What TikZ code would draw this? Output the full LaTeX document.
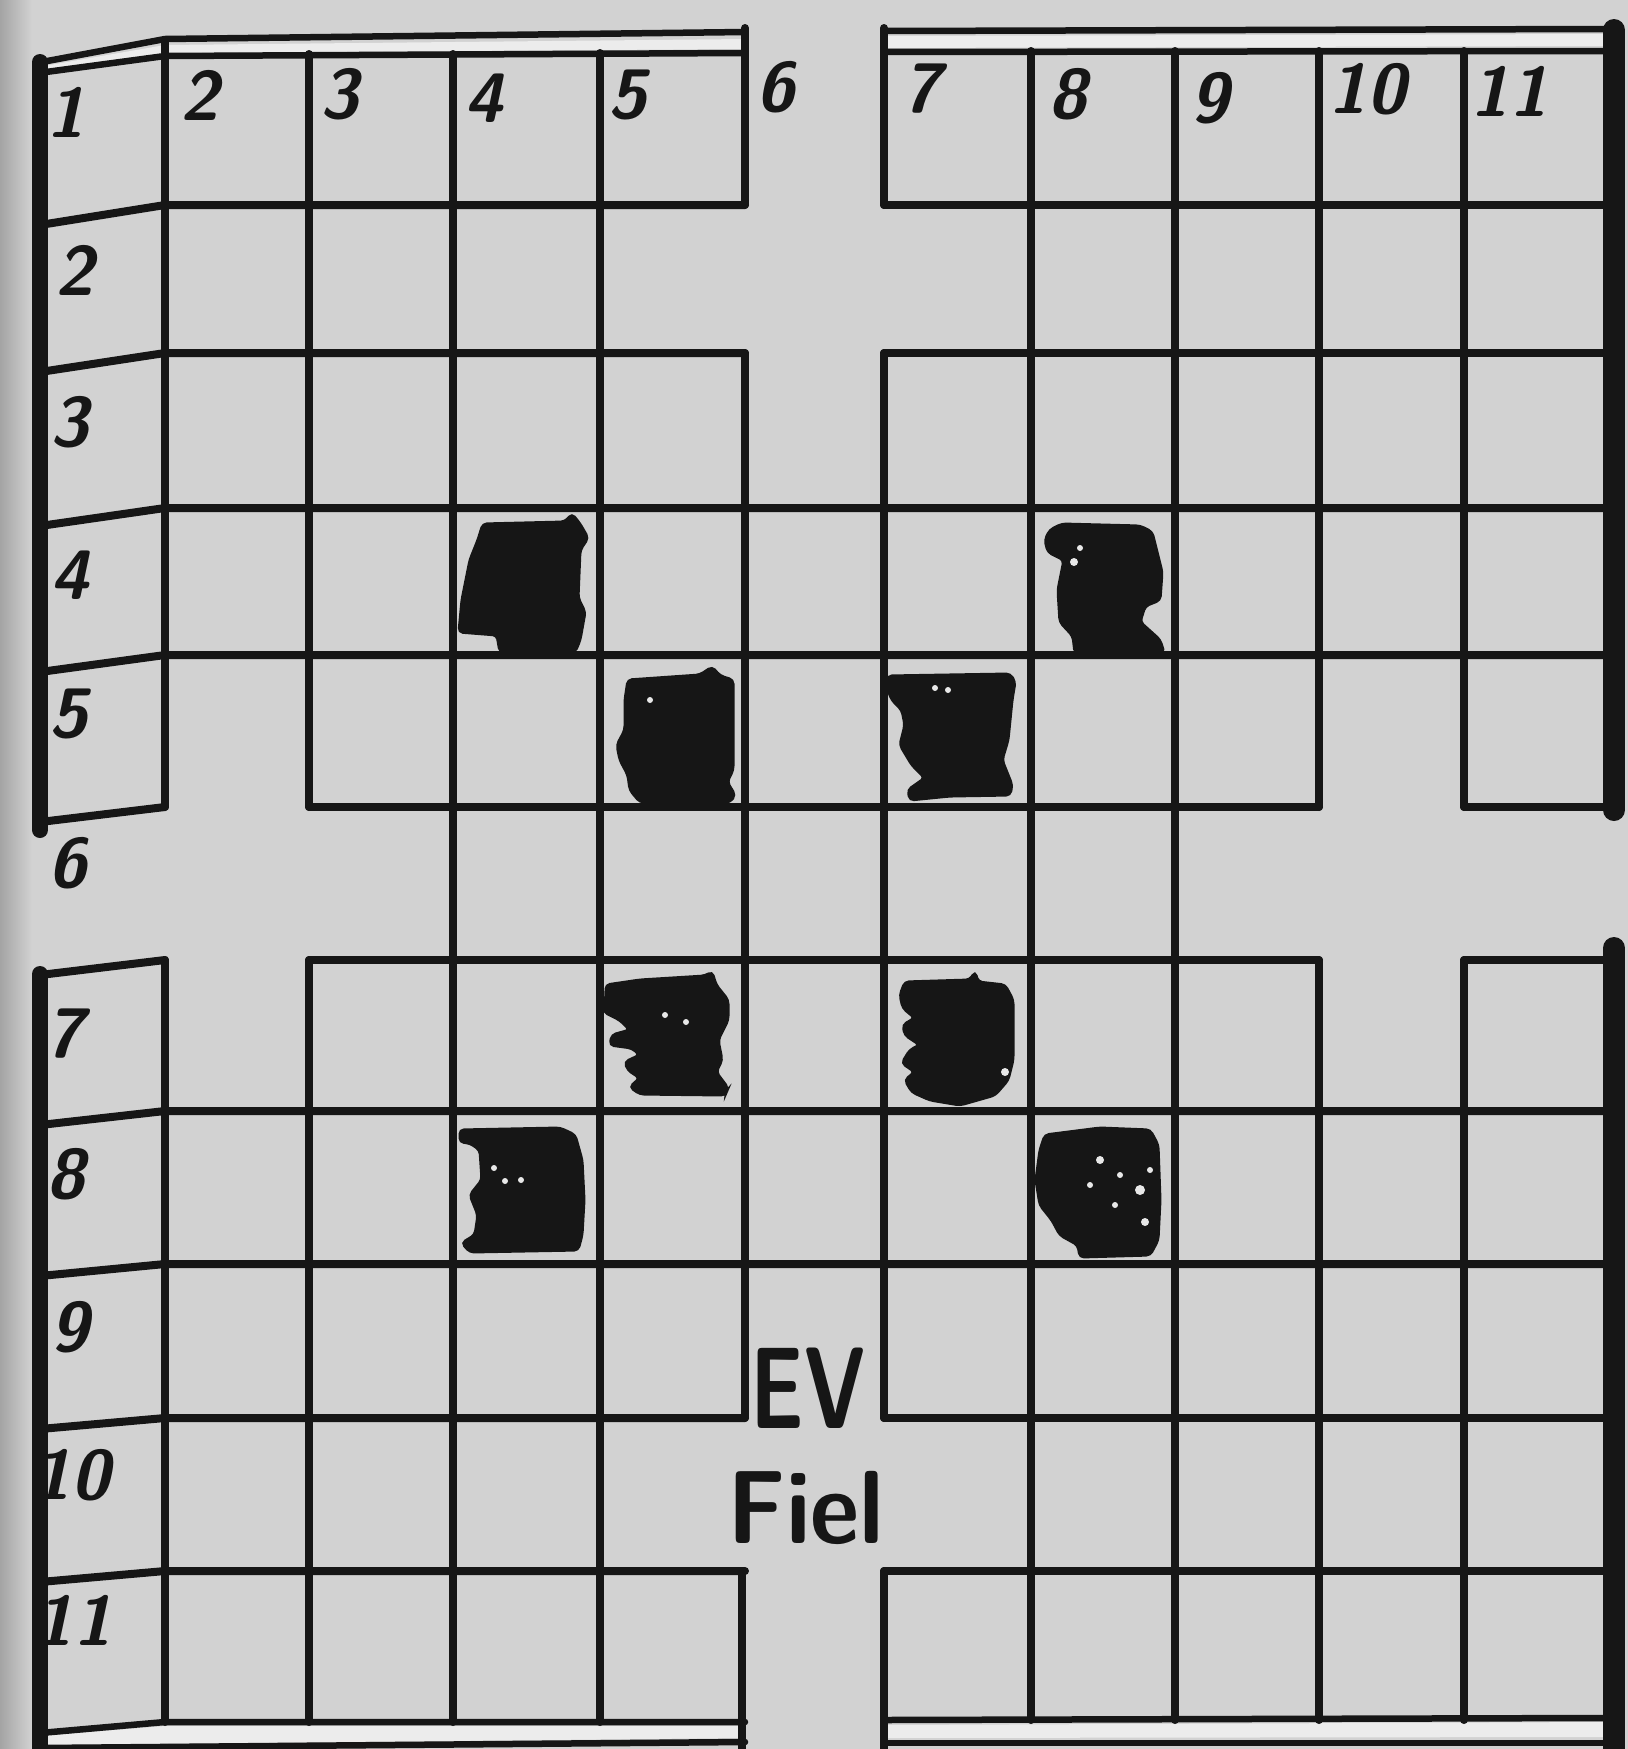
\documentclass[tikz,border=0pt]{standalone}
\usepackage{fontspec}
\definecolor{paper}{RGB}{210,210,210}
\definecolor{ink}{RGB}{22,22,22}
\definecolor{gapc}{RGB}{236,236,236}
\tikzset{
  gridline/.style={draw=ink, line width=8pt, line cap=round, line join=round},
  lborder/.style={draw=ink, line width=16pt, line cap=round},
  rborder/.style={draw=ink, line width=22pt, line cap=round},
  frameline/.style={draw=ink, line width=6.5pt, line cap=round, line join=round},
  piece/.style={fill=ink, draw=ink, line width=3pt, rounded corners=4pt},
  speck/.style={fill=paper!50!white, draw=none},
  numlabel/.style={text=ink, inner sep=0pt, font=\fontsize{70}{70}\selectfont\sffamily\bfseries\slshape},
  wordlabel/.style={text=ink, inner sep=0pt}
}
\begin{document}
\begin{tikzpicture}[x=1pt,y=-1pt]
\useasboundingbox (0,0) rectangle (1628,1749);
\fill[paper] (0,0) rectangle (1628,1749);
\shade[left color=paper!78!black, right color=paper] (0,0) rectangle (32,1749);

% gaps of the double frame lines
\fill[gapc] (44,66) -- (165,45) -- (745,39) -- (745,49) -- (165,53) -- (50,70) -- cycle;
\fill[gapc] (884,36) -- (1604,34) -- (1604,46) -- (884,48) -- cycle;
\fill[gapc] (40,1736) -- (165,1726) -- (745,1726) -- (745,1738) -- (40,1745) -- cycle;
\fill[gapc] (884,1725) -- (1604,1722) -- (1604,1737) -- (884,1738) -- cycle;

% top double line
\draw[frameline] (42,62) -- (165,39) -- (745,32);
\draw[frameline] (46,72) -- (165,56) -- (745,53);
\draw[frameline] (884,31) -- (1604,29);
\draw[frameline] (884,52) -- (1604,51);
% bottom double line
\draw[frameline] (40,1733) -- (165,1722) -- (745,1722);
\draw[frameline] (884,1720) -- (1604,1718);
\draw[frameline] (40,1748) -- (745,1742);
\draw[frameline] (884,1743) -- (1604,1743);

% horizontal grid lines
\draw[gridline] (40,225) -- (165,205) -- (745,205);
\draw[gridline] (884,205) -- (1604,205);
\draw[gridline] (40,372) -- (165,353) -- (745,353);
\draw[gridline] (884,353) -- (1604,353);
\draw[gridline] (40,526) -- (165,508) -- (1604,508);
\draw[gridline] (40,672) -- (165,655) -- (1604,655);
\draw[gridline] (40,822) -- (165,807);
\draw[gridline] (309,807) -- (1319,807);
\draw[gridline] (1464,807) -- (1604,807);
\draw[gridline] (40,975) -- (165,960);
\draw[gridline] (309,960) -- (1319,960);
\draw[gridline] (1464,960) -- (1604,960);
\draw[gridline] (40,1125) -- (165,1111) -- (1604,1111);
\draw[gridline] (40,1276) -- (165,1264) -- (1604,1264);
\draw[gridline] (40,1429) -- (165,1418) -- (745,1418);
\draw[gridline] (884,1418) -- (1604,1418);
\draw[gridline] (40,1582) -- (165,1571) -- (745,1571);
\draw[gridline] (884,1571) -- (1604,1571);

% vertical grid lines
\draw[gridline] (165,40) -- (165,807);
\draw[gridline] (165,960) -- (165,1722);
\draw[gridline] (309,54) -- (309,807);
\draw[gridline] (309,960) -- (309,1722);
\draw[gridline] (453,54) -- (453,1722);
\draw[gridline] (600,53) -- (600,1722);
\draw[gridline] (745,28) -- (745,205);
\draw[gridline] (745,353) -- (745,1418);
\draw[gridline] (742,1571) -- (742,1749);
\draw[gridline] (884,28) -- (884,205);
\draw[gridline] (884,353) -- (884,1418);
\draw[gridline] (884,1571) -- (884,1749);
\draw[gridline] (1031,51) -- (1031,1720);
\draw[gridline] (1175,51) -- (1175,1720);
\draw[gridline] (1319,51) -- (1319,807);
\draw[gridline] (1319,960) -- (1319,1720);
\draw[gridline] (1464,51) -- (1464,807);
\draw[gridline] (1464,960) -- (1464,1720);

% thick side borders
\draw[lborder] (40,62) -- (40,830);
\draw[lborder] (40,974) -- (40,1749);
\draw[rborder] (1614,30) -- (1614,810);
\draw[rborder] (1614,948) -- (1614,1749);

% pieces
\draw[piece] (483,524) -- (565,522) -- (572,514) -- (580,524) -- (588,538) -- (580,550) -- (578,598) -- (585,612) -- (580,640) -- (575,652) -- (500,652) -- (497,635) -- (459,632) -- (462,600) -- (470,560) -- (478,540) -- cycle;
\draw[piece] (1050,530) -- (1062,524) -- (1140,526) -- (1152,532) -- (1156,548) -- (1162,572) -- (1160,600) -- (1145,606) -- (1140,622) -- (1160,640) -- (1164,653) -- (1075,653) -- (1073,636) -- (1060,622) -- (1058,590) -- (1064,560) -- (1048,552) -- (1045,540) -- cycle;
\draw[piece] (628,680) -- (700,675) -- (712,667) -- (720,676) -- (733,680) -- (733,770) -- (727,782) -- (735,795) -- (730,802) -- (640,802) -- (630,790) -- (628,775) -- (620,760) -- (617,745) -- (625,730) -- (625,700) -- cycle;
\draw[piece] (888,676) -- (1010,674) -- (1015,682) -- (1012,700) -- (1008,740) -- (1002,760) -- (1012,785) -- (1010,795) -- (950,796) -- (910,800) -- (908,790) -- (925,778) -- (912,765) -- (900,745) -- (905,725) -- (902,710) -- (892,700) -- (888,690) -- cycle;
\draw[piece] (606,985) -- (640,980) -- (705,976) -- (712,972) -- (716,985) -- (728,1000) -- (728,1020) -- (718,1040) -- (722,1060) -- (716,1072) -- (728,1088) -- (725,1095) -- (640,1094) -- (630,1087) -- (640,1078) -- (628,1070) -- (625,1062) -- (640,1055) -- (632,1048) -- (610,1045) -- (612,1035) -- (630,1030) -- (620,1020) -- (604,1012) -- (606,995) -- cycle;
\draw[piece] (905,982) -- (970,980) -- (975,972) -- (978,982) -- (1005,985) -- (1013,1000) -- (1013,1060) -- (1008,1080) -- (995,1095) -- (960,1105) -- (930,1100) -- (912,1092) -- (905,1080) -- (915,1072) -- (902,1063) -- (910,1050) -- (920,1045) -- (905,1035) -- (903,1025) -- (915,1018) -- (903,1008) -- (900,995) -- cycle;
\draw[piece] (460,1130) -- (560,1128) -- (575,1135) -- (582,1160) -- (584,1200) -- (582,1235) -- (578,1250) -- (470,1252) -- (462,1243) -- (475,1235) -- (478,1215) -- (470,1195) -- (482,1180) -- (480,1150) -- (470,1143) -- (460,1142) -- cycle;
\draw[piece] (1045,1135) -- (1100,1128) -- (1150,1130) -- (1158,1145) -- (1160,1200) -- (1158,1240) -- (1150,1255) -- (1080,1257) -- (1078,1245) -- (1060,1235) -- (1052,1220) -- (1040,1205) -- (1036,1180) -- (1040,1150) -- cycle;

% white specks in the pieces
\foreach \sx/\sy/\sr in {1100/1160/4, 1120/1175/3, 1140/1190/5, 1115/1205/3, 1145/1222/4, 1090/1185/3, 1150/1170/3,
  1080/548/3, 1074/562/4, 650/700/3, 935/688/3, 948/690/3, 665/1015/3, 686/1022/3,
  494/1168/3, 505/1181/3, 521/1180/3, 1005/1072/4}
  {\fill[speck] (\sx,\sy) circle (\sr pt);}

% column labels
\node[numlabel] (c1) at (66,112) {1};
\node[numlabel] (c2) at (200,95) {2};
\node[numlabel] (c3) at (340,94) {3};
\node[numlabel] (c4) at (484,98) {4};
\node[numlabel] (c5) at (628,95) {5};
\node[numlabel] (c6) at (776,87) {6};
\node[numlabel] (c7) at (922,89) {7};
\node[numlabel] (c8) at (1068,94) {8};
\node[numlabel] (c9) at (1210,98) {9};
\node[numlabel] (c10) at (1367,89) {10};
\node[numlabel] (c11) at (1509,91) {11};
% row labels
\node[numlabel] (r2) at (75,270) {2};
\node[numlabel] (r3) at (70,422) {3};
\node[numlabel] (r4) at (70,575) {4};
\node[numlabel] (r5) at (69,714) {5};
\node[numlabel] (r6) at (68,863) {6};
\node[numlabel] (r7) at (65,1034) {7};
\node[numlabel] (r8) at (66,1174) {8};
\node[numlabel] (r9) at (70,1327) {9};
\node[numlabel] (r10) at (71,1475) {10};
\node[numlabel] (r11) at (73,1620) {11};

% words
\node[wordlabel, xscale=0.72, font=\fontsize{116}{116}\selectfont\sffamily\bfseries] (ev) at (808,1388) {EV};
\node[wordlabel, xscale=0.92, font=\fontsize{104}{104}\selectfont\sffamily\bfseries] (fiel) at (806,1508) {Fiel};
\end{tikzpicture}
\end{document}
